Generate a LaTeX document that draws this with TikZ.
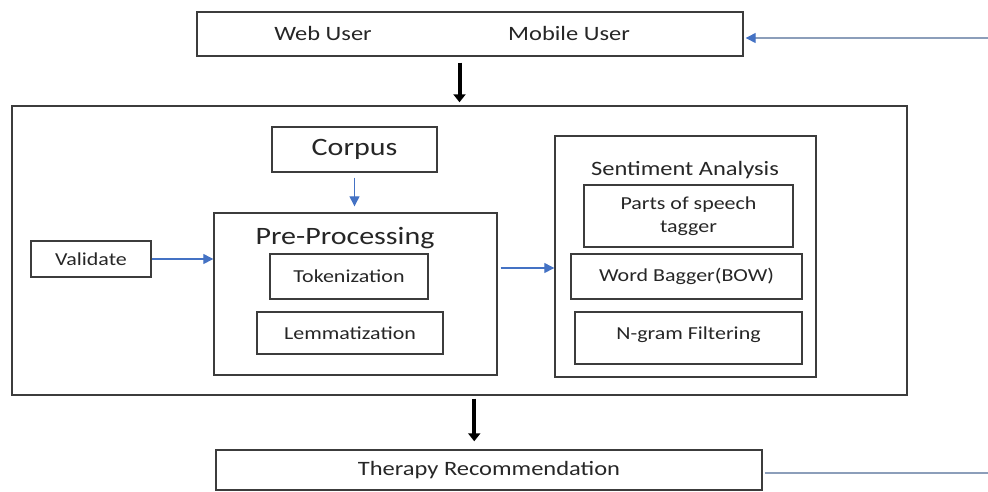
\documentclass[tikz,border=0pt]{standalone}
\usepackage{fontspec}
\setmainfont[FakeStretch=1.2]{Carlito}
\usepackage{tikz}
\usetikzlibrary{arrows.meta,positioning,calc}
\usepackage{xcolor}
\definecolor{linkblue}{RGB}{68,114,196}
\definecolor{loopgray}{RGB}{140,158,186}
\definecolor{edgegray}{RGB}{60,60,60}

\begin{document}
\begin{tikzpicture}[x=1pt, y=-1pt, every node/.style={font=\fontsize{18.3}{22}\selectfont, text=black!85}]
\tikzset{box/.style={draw=edgegray, line width=1.4pt, minimum width=#1, inner sep=0pt, align=center}}
\tikzset{bigarrow/.style={-{Triangle[length=8pt,width=12pt]}, line width=4pt, black}}
\tikzset{bluearrow/.style={-{Triangle[length=10pt,width=10pt]}, line width=1.3pt, linkblue}}
\tikzset{feedline/.style={line width=1.3pt, loopgray}}
\useasboundingbox (0,0) rectangle (988,491);
% top row
\node[box=546pt, minimum height=44pt] (users) at (470,34) {};
\node (web) at (323,33) {\fontsize{20.4}{24}\selectfont Web User};
\node (mobile) at (569,33) {\fontsize{20.4}{24}\selectfont Mobile User};
% main frame
\node[box=895pt, minimum height=289pt] (outer) at (459.5,250.5) {};
\node[box=165pt, minimum height=45pt, font=\fontsize{25}{30}\selectfont] (corpus) at (354.5,149.5) {Corpus};
\node[box=120pt, minimum height=36pt] (validate) at (91,259) {Validate};
\node[box=283pt, minimum height=162pt] (prep) at (355.5,294) {};
\node[font=\fontsize{25}{30}\selectfont] (preptitle) at (345,238) {Pre-Processing};
\node[box=158pt, minimum height=45pt] (token) at (349,276.5) {Tokenization};
\node[box=186pt, minimum height=42pt] (lemma) at (350,333) {Lemmatization};
\node[box=261pt, minimum height=241pt] (senti) at (685.5,256.5) {};
\node[font=\fontsize{20.4}{24}\selectfont] (sentititle) at (685,170) {Sentiment Analysis};
\node[box=209pt, minimum height=62pt, font=\fontsize{18.3}{23}\selectfont] (pos) at (688.5,216) {Parts of speech\\tagger};
\node[box=231pt, minimum height=45pt] (bow) at (686.5,276.5) {Word Bagger(BOW)};
\node[box=227pt, minimum height=52pt, text depth=10pt] (ngram) at (688.5,338) {N-gram Filtering};
% bottom
\node[box=546pt, minimum height=40pt, font=\fontsize{20.4}{24}\selectfont] (therapy) at (489,470) {Therapy Recommendation};
\coordinate (mid) at ($(outer.south)!0.5!(therapy.north)$);
\coordinate (loopin) at (988,473);
\coordinate (loopout) at (988,38);
% connectors
\draw[bigarrow] ([yshift=-6pt]users.south -| outer.north) -- ([yshift=3pt]outer.north);
\draw[bigarrow] ([yshift=-3pt]outer.south -| mid) -- ([yshift=8pt]therapy.north -| mid);
\draw[bluearrow] ([yshift=-5pt]corpus.south) -- ([yshift=6pt]corpus.south |- prep.north);
\draw[bluearrow] (validate.east) -- (validate.east -| prep.west);
\draw[bluearrow] ([xshift=3pt,yshift=26pt]prep.east) -- ([yshift=26pt]prep.east -| senti.west);
\draw[feedline] ([xshift=2pt,yshift=-3pt]therapy.east) -- (loopin);
\draw[feedline, -{Triangle[length=10pt,width=10pt,color=linkblue]}] (loopout) -- ([xshift=2pt,yshift=-4pt]users.east);
\end{tikzpicture}
\end{document}
